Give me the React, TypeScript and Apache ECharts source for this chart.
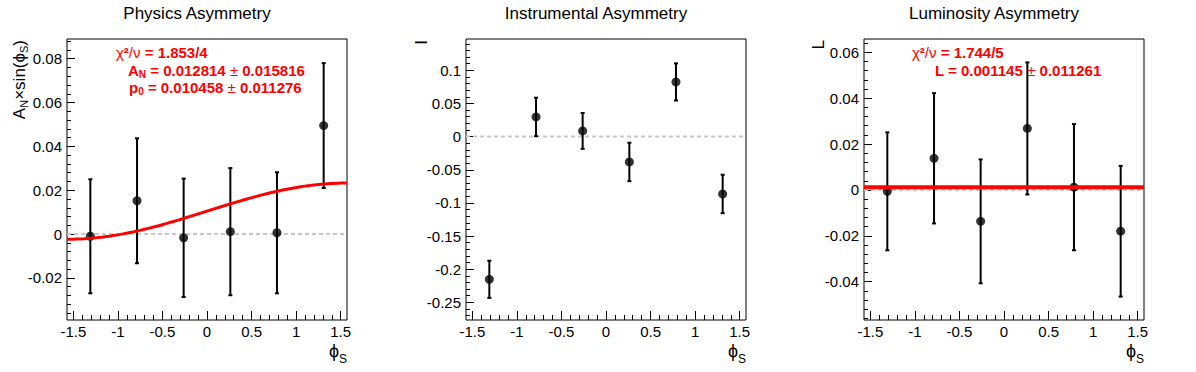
import React, { useEffect, useRef } from "react";
import * as echarts from "echarts";

// ---- data (bin centres in phi_S and measured asymmetries) ----
const X_CENTERS = [-1.309, -0.785, -0.262, 0.262, 0.785, 1.309];

const PHYS_VALUES = [-0.001, 0.0152, -0.0017, 0.0011, 0.0006, 0.0495];
const PHYS_ERRORS = [0.026, 0.0285, 0.027, 0.029, 0.0276, 0.0285];

const INST_VALUES = [-0.2153, 0.0297, 0.0086, -0.0382, 0.0825, -0.0865];
const INST_ERRORS = [0.028, 0.029, 0.027, 0.029, 0.028, 0.029];

const LUMI_VALUES = [-0.0006, 0.0138, -0.0137, 0.0268, 0.0012, -0.018];
const LUMI_ERRORS = [0.0257, 0.0284, 0.027, 0.0288, 0.0275, 0.0285];

// fit parameters shown in the stat boxes
const PHYS_P0 = 0.010458;
const PHYS_AN = 0.012814;
const LUMI_L = 0.001145;

// ---- axes ----
const X_RANGE = [-Math.PI / 2, Math.PI / 2];
const X_TICKS = [-1.5, -1, -0.5, 0, 0.5, 1, 1.5];
const X_MINOR_STEP = 0.1;

const PHYS_Y_RANGE = [-0.0392, 0.089];
const PHYS_Y_TICKS = [-0.02, 0, 0.02, 0.04, 0.06, 0.08];
const PHYS_Y_MINOR_STEP = 0.004;

const INST_Y_RANGE = [-0.2767, 0.1473];
const INST_Y_TICKS = [-0.25, -0.2, -0.15, -0.1, -0.05, 0, 0.05, 0.1];
const INST_Y_MINOR_STEP = 0.01;

const LUMI_Y_RANGE = [-0.0567, 0.0658];
const LUMI_Y_TICKS = [-0.04, -0.02, 0, 0.02, 0.04, 0.06];
const LUMI_Y_MINOR_STEP = 0.004;

const TITLES = ["Physics Asymmetry", "Instrumental Asymmetry", "Luminosity Asymmetry"];

const FONT = "'Liberation Sans', Arial, Helvetica, sans-serif";
const PW = 1196 / 3;
const GRID_LEFT = 67;
const GRID_TOP = 39;
const GRID_W = 280;
const GRID_H = 281;

function minorTicks(lo: number, hi: number, step: number): number[] {
  const out: number[] = [];
  const start = Math.ceil(lo / step - 1e-9);
  const end = Math.floor(hi / step + 1e-9);
  for (let k = start; k <= end; k++) out.push(Math.round(k * step * 1e6) / 1e6);
  return out;
}

function physFit(): number[][] {
  const pts: number[][] = [];
  const n = 100;
  for (let k = 0; k <= n; k++) {
    const x = X_RANGE[0] + ((X_RANGE[1] - X_RANGE[0]) * k) / n;
    pts.push([x, PHYS_P0 + PHYS_AN * Math.sin(x)]);
  }
  return pts;
}

export default function App() {
  const ref = useRef<HTMLDivElement>(null);

  useEffect(() => {
    document.body.style.margin = "0";
    if (!ref.current) return;
    const chart = echarts.init(ref.current, null, { renderer: "svg" });

    const panels = [
      { values: PHYS_VALUES, errors: PHYS_ERRORS, yRange: PHYS_Y_RANGE, yTicks: PHYS_Y_TICKS, yMinor: PHYS_Y_MINOR_STEP },
      { values: INST_VALUES, errors: INST_ERRORS, yRange: INST_Y_RANGE, yTicks: INST_Y_TICKS, yMinor: INST_Y_MINOR_STEP },
      { values: LUMI_VALUES, errors: LUMI_ERRORS, yRange: LUMI_Y_RANGE, yTicks: LUMI_Y_TICKS, yMinor: LUMI_Y_MINOR_STEP },
    ];

    const grids: any[] = [];
    const xAxes: any[] = [];
    const yAxes: any[] = [];
    const series: any[] = [];
    const graphics: any[] = [];

    const xMinor = minorTicks(X_TICKS[0], X_TICKS[X_TICKS.length - 1], X_MINOR_STEP);

    panels.forEach((p, i) => {
      const left = GRID_LEFT + Math.round(i * PW);
      grids.push({
        left,
        top: GRID_TOP,
        width: GRID_W,
        height: GRID_H,
        show: true,
        borderColor: "#000",
        borderWidth: 1,
        backgroundColor: "transparent",
      });
      const common = {
        type: "value",
        gridIndex: i,
        axisLine: { show: false, onZero: false },
        splitLine: { show: false },
        minorTick: { show: false },
      };
      xAxes.push({
        ...common,
        position: "bottom",
        min: X_RANGE[0],
        max: X_RANGE[1],
        axisTick: { show: true, inside: true, length: 9, customValues: X_TICKS, lineStyle: { color: "#000", width: 1 } },
        axisLabel: { show: true, customValues: X_TICKS, color: "#000", fontSize: 15, fontFamily: FONT, margin: 4 },
      });
      xAxes.push({
        ...common,
        position: "bottom",
        min: X_RANGE[0],
        max: X_RANGE[1],
        axisTick: { show: true, inside: true, length: 5, customValues: xMinor, lineStyle: { color: "#000", width: 1 } },
        axisLabel: { show: false },
      });
      const yMinorVals = minorTicks(p.yRange[0], p.yRange[1], p.yMinor);
      yAxes.push({
        ...common,
        position: "left",
        min: p.yRange[0],
        max: p.yRange[1],
        axisTick: { show: true, inside: true, length: 8, customValues: p.yTicks, lineStyle: { color: "#000", width: 1 } },
        axisLabel: { show: true, customValues: p.yTicks, color: "#000", fontSize: 15, fontFamily: FONT, margin: 5 },
      });
      yAxes.push({
        ...common,
        position: "left",
        min: p.yRange[0],
        max: p.yRange[1],
        axisTick: { show: true, inside: true, length: 4, customValues: yMinorVals, lineStyle: { color: "#000", width: 1 } },
        axisLabel: { show: false },
      });

      const xi = 2 * i;
      const yi = 2 * i;

      series.push({
        type: "line",
        xAxisIndex: xi,
        yAxisIndex: yi,
        data: [
          [X_RANGE[0], 0],
          [X_RANGE[1], 0],
        ],
        symbol: "none",
        silent: true,
        lineStyle: { color: "#c8c8c8", width: 2, type: [4, 3] },
        z: 1,
      });

      series.push({
        type: "custom",
        xAxisIndex: xi,
        yAxisIndex: yi,
        data: X_CENTERS.map((x, k) => [x, p.values[k], p.errors[k]]),
        encode: { x: 0, y: 1 },
        z: 3,
        silent: true,
        renderItem: (_params: any, api: any) => {
          const x = api.value(0);
          const y = api.value(1);
          const e = api.value(2);
          const top = api.coord([x, y + e]);
          const bot = api.coord([x, y - e]);
          const style = { stroke: "#000", lineWidth: 2 };
          return {
            type: "group",
            children: [
              { type: "line", shape: { x1: top[0], y1: top[1], x2: bot[0], y2: bot[1] }, style },
              { type: "line", shape: { x1: top[0] - 2, y1: top[1], x2: top[0] + 2, y2: top[1] }, style },
              { type: "line", shape: { x1: bot[0] - 2, y1: bot[1], x2: bot[0] + 2, y2: bot[1] }, style },
            ],
          };
        },
      });

      series.push({
        type: "scatter",
        xAxisIndex: xi,
        yAxisIndex: yi,
        data: X_CENTERS.map((x, k) => [x, p.values[k]]),
        symbol: "circle",
        symbolSize: 9,
        itemStyle: { color: "#000" },
        silent: true,
        z: 4,
      });

      graphics.push({
        type: "text",
        x: Math.round(i * PW) + 197,
        y: 13,
        z: 100,
        style: { text: TITLES[i], align: "center", verticalAlign: "middle", font: `17px ${FONT}`, fill: "#000" },
      });

      graphics.push({
        type: "text",
        x: left + GRID_W,
        y: 351,
        z: 100,
        style: {
          text: "{m|ϕ}{s|S}",
          align: "right",
          verticalAlign: "middle",
          rich: {
            m: { fontSize: 18, fontFamily: FONT, fill: "#000", lineHeight: 28 },
            s: { fontSize: 12, fontFamily: FONT, fill: "#000", lineHeight: 12, padding: [16, 0, 0, 0] },
          },
        },
      });
    });

    series.push({
      type: "line",
      xAxisIndex: 0,
      yAxisIndex: 0,
      data: physFit(),
      symbol: "none",
      silent: true,
      lineStyle: { color: "#ff0000", width: 3 },
      z: 5,
    });
    series.push({
      type: "line",
      xAxisIndex: 4,
      yAxisIndex: 4,
      data: [
        [X_RANGE[0], LUMI_L],
        [X_RANGE[1], LUMI_L],
      ],
      symbol: "none",
      silent: true,
      lineStyle: { color: "#ff0000", width: 4 },
      z: 5,
    });

    const blackRich = {
      n: { fontSize: 17, fontFamily: FONT, fill: "#000", lineHeight: 20 },
      s: { fontSize: 11, fontFamily: FONT, fill: "#000", lineHeight: 11, padding: [9, 0, 0, 0] },
    };
    // y-axis titles
    graphics.push({
      type: "text",
      x: 19,
      y: 40,
      rotation: Math.PI / 2,
      z: 100,
      style: { text: "{n|A}{s|N}{n|×sin(ϕ}{s|S}{n|)}", align: "right", verticalAlign: "middle", rich: blackRich },
    });
    graphics.push({
      type: "text",
      x: GRID_LEFT + Math.round(PW) - 45,
      y: 40,
      rotation: Math.PI / 2,
      z: 100,
      style: { text: "I", align: "right", verticalAlign: "middle", font: `17px ${FONT}`, fill: "#000" },
    });
    graphics.push({
      type: "text",
      x: GRID_LEFT + Math.round(2 * PW) - 46,
      y: 40,
      rotation: Math.PI / 2,
      z: 100,
      style: { text: "L", align: "right", verticalAlign: "middle", font: `17px ${FONT}`, fill: "#000" },
    });

    const redRich = {
      n: { fontSize: 15, fontFamily: FONT, fontWeight: "bold", fill: "#ff0000", lineHeight: 18 },
      g: { fontSize: 15, fontFamily: FONT, fontWeight: "normal", fill: "#ff0000", lineHeight: 18 },
      s: { fontSize: 10, fontFamily: FONT, fontWeight: "bold", fill: "#ff0000", lineHeight: 10, padding: [8, 0, 0, 0] },
    };
    const stats = [
      { x: 116, y: 52, text: "{g|χ}{n|²}{g|/}{g|ν}{n| = 1.853/4}" },
      { x: 128, y: 70, text: "{n|A}{s|N}{n| = 0.012814 }{g|±}{n| 0.015816}" },
      { x: 129, y: 87, text: "{n|p}{s|0}{n| = 0.010458 }{g|±}{n| 0.011276}" },
      { x: 912, y: 52, text: "{g|χ}{n|²}{g|/}{g|ν}{n| = 1.744/5}" },
      { x: 935, y: 70, text: "{n|L = 0.001145 }{g|±}{n| 0.011261}" },
    ];
    stats.forEach((s) => {
      graphics.push({
        type: "text",
        x: s.x,
        y: s.y,
        z: 100,
        style: { text: s.text, align: "left", verticalAlign: "middle", rich: redRich },
      });
    });

    chart.setOption({
      animation: false,
      grid: grids,
      xAxis: xAxes,
      yAxis: yAxes,
      series,
      graphic: graphics,
    });

    return () => chart.dispose();
  }, []);

  return <div ref={ref} style={{ width: 1196, height: 372 }} />;
}
